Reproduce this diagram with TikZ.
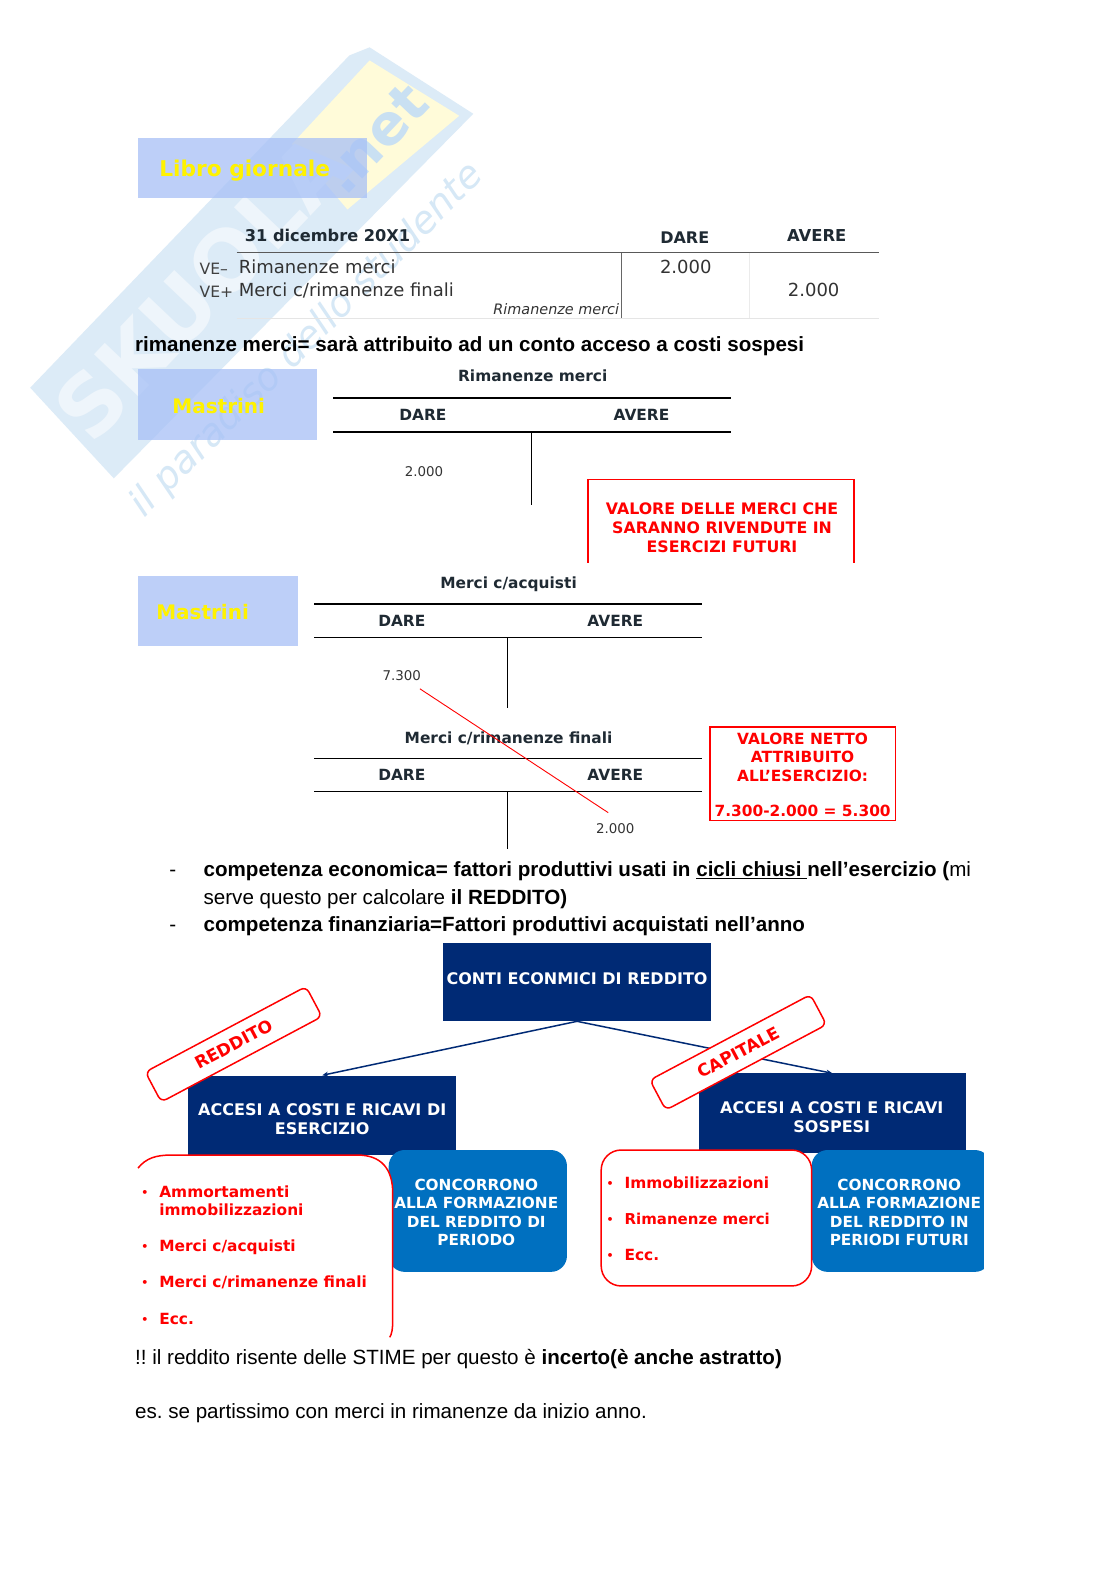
\documentclass[tikz,border=0pt]{standalone}
\usepackage{fontspec}
\setmainfont{Liberation Sans}
\newfontfamily\vd{DejaVu Sans}
\usetikzlibrary{fit,arrows.meta}
\frenchspacing
\definecolor{navy}{HTML}{002A75}
\definecolor{midblue}{HTML}{0070C0}
\definecolor{boxblue}{HTML}{A7C0F6}
\definecolor{wmblue}{HTML}{DCEBF7}
\definecolor{wmyellow}{HTML}{FFFBD9}
\definecolor{wmtext}{HTML}{C9E0F2}
\definecolor{wmscript}{HTML}{D6E8F6}
\definecolor{wmwhite}{HTML}{EEF5FB}
\definecolor{hdr}{HTML}{1F2A33}
\newcommand{\fs}[1]{\fontsize{#1}{#1}\selectfont}
\tikzset{
 body/.style={anchor=base west,inner sep=0pt,font=\fs{20.6},text=black},
 vdt/.style={anchor=base,inner sep=0pt,font=\vd\fs{15}},
 vdb/.style={anchor=base,inner sep=0pt,font=\vd\bfseries\fs{15.4},text=hdr},
 ttl/.style={anchor=base west,inner sep=0pt,font=\vd\bfseries\fs{21.7},text=yellow},
 ruleline/.style={draw=black,line width=1.5pt},
 thinline/.style={draw=black!65,line width=.7pt},
 redbox/.style={draw=red,line width=1.4pt},
 redt/.style={text=red,font=\vd\bfseries\fs{15.8},align=center,inner sep=0pt},
 navybox/.style={fill=navy,inner sep=0pt},
 navyt/.style={inner sep=0pt,text=white,font=\vd\bfseries\fs{16},align=center},
 cont/.style={inner sep=0pt,text=white,font=\vd\bfseries\fs{15.3},align=center},
 bluebox/.style={fill=midblue,rounded corners=16pt,inner sep=0pt},
 tilted/.style={fill=white,draw=red,line width=1.5pt,rounded corners=6pt,minimum width=182pt,minimum height=34pt,inner sep=0pt,text=red,font=\vd\bfseries\fs{17}},
 whitered/.style={fill=white,draw=red,line width=1.5pt},
 item/.style={anchor=base west,inner sep=0pt,text=red,font=\vd\bfseries\fs{15.4},align=left},
 bul/.style={anchor=base,inner sep=0pt,text=red,font=\vd\bfseries\fs{11}},
 linkarrow/.style={draw=navy,line width=1.5pt,-{Stealth[length=6pt,width=5pt]}},
}
\begin{document}
\begin{tikzpicture}[x=1.0072pt,y=-1.0072pt]
\useasboundingbox[fill=white] (0,0) rectangle (1110,1568);
% watermark
\fill[wmblue] (30,385) -- (347,55) -- (367,47) -- (470,113) -- (113,475) -- cycle;
\fill[wmyellow] (290,143) -- (367,60) -- (456,115) -- (345,208) -- cycle;
\node[rotate=46.5,inner sep=0pt,text=wmwhite,font=\vd\bfseries\fs{84}] (wm1) at (200,285) {SKUOLA};
\node[rotate=46.5,inner sep=0pt,text=wmtext,font=\vd\bfseries\fs{56}] (wm2) at (372,138) {.net};
\node[rotate=45,inner sep=0pt,text=wmscript,font=\vd\itshape\fs{38}] (wm3) at (305,338) {il paradiso dello studente};
% title boxes
\node[fit={(137,137)(364,197)},fill=boxblue,opacity=.75,inner sep=0pt] (b1) {};
\node[ttl] (t1) at (158,175) {Libro giornale};
\node[fit={(137,366)(315,437)},fill=boxblue,opacity=.75,inner sep=0pt] (b2) {};
\node[ttl,font=\vd\bfseries\fs{20}] (t2) at (171,411) {Mastrini};
\node[fit={(137,572)(296,641)},fill=boxblue,opacity=.75,inner sep=0pt] (b3) {};
\node[ttl,font=\vd\bfseries\fs{20}] (t3) at (155,615) {Mastrini};
% journal
\node[vdb,anchor=base west,font=\vd\bfseries\fs{16.2}] (j1) at (243,240) {31 dicembre 20X1};
\node[vdb,font=\vd\bfseries\fs{16}] (j2) at (680,242) {DARE};
\node[vdb,font=\vd\bfseries\fs{16.4}] (j3) at (811,240) {AVERE};
\draw[thinline] (235,251) -- (873,251);
\draw[draw=black!10,line width=.8pt] (235,316) -- (873,316);
\draw[draw=black!8,line width=.6pt] (744,251) -- (744,316);
\draw[draw=black!60,line width=.6pt] (617,251) -- (617,316);
\node[vdt,anchor=base west,text=black!75,font=\vd\fs{15.6}] (v1) at (198,273) {VE–};
\node[vdt,anchor=base west,text=black!75,font=\vd\fs{15.6}] (v2) at (198,295) {VE+};
\node[vdt,anchor=base west,text=black!80,font=\vd\fs{18}] (r1) at (237,272) {Rimanenze merci};
\node[vdt,anchor=base west,text=black!80,font=\vd\fs{18}] (r2) at (237,294) {Merci c/rimanenze finali};
\node[vdt,anchor=base east,text=black!80,font=\vd\itshape\fs{14.4}] (r3) at (615,312) {Rimanenze merci};
\node[vdt,text=black!80,font=\vd\fs{18}] (n1) at (681,272) {2.000};
\node[vdt,text=black!80,font=\vd\fs{18}] (n2) at (808,294) {2.000};
% sentence
\node[body,font=\bfseries\fs{20.6}] (s1) at (134,349) {rimanenze merci= sarà attribuito ad un conto acceso a costi sospesi};
% ledger 1
\node[vdb] (l1) at (529,379) {Rimanenze merci};
\draw[ruleline] (331,395) -- (726,395);
\node[vdb] (l1d) at (420,418) {DARE};
\node[vdb] (l1a) at (637,418) {AVERE};
\draw[ruleline] (331,429) -- (726,429);
\draw[ruleline] (528,429) -- (528,501);
\node[vdt,text=black!80,font=\vd\fs{13.4}] (l1n) at (421,473) {2.000};
\draw[redbox] (584,559) -- (584,476) -- (848,476) -- (848,559);
\node[redt] (rb1) at (717,524) {VALORE DELLE MERCI CHE\\[3pt]SARANNO RIVENDUTE IN\\[3pt]ESERCIZI FUTURI};
% ledger 2
\node[vdb] (l2) at (505,584) {Merci c/acquisti};
\draw[ruleline] (312,600) -- (697,600);
\node[vdb] (l2d) at (399,622) {DARE};
\node[vdb] (l2a) at (611,622) {AVERE};
\draw[ruleline] (312,633) -- (697,633);
\draw[ruleline] (504,633) -- (504,703);
\node[vdt,text=black!80,font=\vd\fs{13.4}] (l2n) at (399,676) {7.300};
% ledger 3
\node[vdb] (l3) at (505,738) {Merci c/rimanenze finali};
\draw[ruleline] (312,753) -- (697,753);
\node[vdb] (l3d) at (399,775) {DARE};
\node[vdb] (l3a) at (611,775) {AVERE};
\draw[ruleline] (312,786) -- (697,786);
\draw[ruleline] (504,786) -- (504,843);
\node[vdt,text=black!80,font=\vd\fs{13.4}] (l3n) at (611,828) {2.000};
\coordinate (crossA) at (417,684);
\coordinate (crossB) at (604,807);
\draw[draw=red,line width=.9pt] (crossA) -- (crossB);
\node[fit={(705,722)(889,815)},draw=red,line width=1.4pt,inner sep=0pt] (rb2) {};
\node[redt,font=\vd\bfseries\fs{15.4}] (rb2t) at (797,752) {VALORE NETTO\\[3pt]ATTRIBUITO\\[3pt]ALL’ESERCIZIO:};
\node[redt,font=\vd\bfseries\fs{15.4}] (rb2u) at (797,805) {7.300-2.000 = 5.300};
% bullets
\node[body] (d1) at (168,870) {-};
\node[body] (p1) at (202,870) {\textbf{competenza economica= fattori produttivi usati in \underline{cicli chiusi }nell’esercizio (}mi};
\node[body] (p2) at (202,898) {serve questo per calcolare \textbf{il REDDITO)}};
\node[body] (d2) at (168,925) {-};
\node[body,font=\bfseries\fs{20.6}] (p3) at (202,925) {competenza finanziaria=Fattori produttivi acquistati nell’anno};
% chart
\node[fit={(440,936)(706,1014)},navybox] (top) {};
\node[navyt] (topt) at (573,972) {CONTI ECONMICI DI REDDITO};
\node[fit={(187,1068)(453,1147)},navybox] (acc1) {};
\node[fit={(694,1066)(959,1145)},navybox] (acc2) {};
\draw[linkarrow] (top.south) -- (acc1.north);
\draw[linkarrow] (top.south) -- (acc2.north);
\node[navyt] (acc1t) at (320,1111) {ACCESI A COSTI E RICAVI DI\\[3pt]ESERCIZIO};
\node[navyt] (acc2t) at (826,1109) {ACCESI A COSTI E RICAVI\\[3pt]SOSPESI};
\node[tilted,rotate=28] (lab1) at (232,1037) {REDDITO};
\node[tilted,rotate=28] (lab2) at (733,1045) {CAPITALE};
% blue boxes
\node[fit={(386,1142)(563,1263)},bluebox] (con1) {};
\begin{scope}
\clip (800,1130) rectangle (977,1270);
\node[fit={(806,1142)(984,1263)},bluebox] (con2) {};
\end{scope}
\node[cont] (con1t) at (473,1204) {CONCORRONO\\[3pt]ALLA FORMAZIONE\\[3pt]DEL REDDITO DI\\[3pt]PERIODO};
\node[cont] (con2t) at (893,1204) {CONCORRONO\\[3pt]ALLA FORMAZIONE\\[3pt]DEL REDDITO IN\\[3pt]PERIODI FUTURI};
% white lists
\fill[white] (137,1328) -- (137,1160) .. controls (145,1150) and (155,1147) .. (170,1147) -- (355,1147) .. controls (378,1147) and (390,1160) .. (390,1185) -- (390,1310) .. controls (390,1320) and (389,1325) .. (387,1328) -- cycle;
\draw[draw=red,line width=1.5pt] (137,1160) .. controls (145,1150) and (155,1147) .. (170,1147) -- (355,1147) .. controls (378,1147) and (390,1160) .. (390,1185) -- (390,1310) .. controls (390,1320) and (389,1325) .. (387,1328);
\node[fit={(597,1142)(806,1277)},whitered,rounded corners=20pt,inner sep=0pt] (list2) {};
\node[bul] (a0) at (144,1188) {•};
\node[item] (a1) at (158,1189) {Ammortamenti};
\node[item] (a2) at (158,1207) {immobilizzazioni};
\node[bul] (a3) at (144,1242) {•};
\node[item] (a4) at (158,1243) {Merci c/acquisti};
\node[bul] (a5) at (144,1278) {•};
\node[item] (a6) at (158,1279) {Merci c/rimanenze finali};
\node[bul] (a7) at (144,1314) {•};
\node[item] (a8) at (158,1315) {Ecc.};
\node[bul] (c0) at (606,1179) {•};
\node[item] (c1) at (620,1180) {Immobilizzazioni};
\node[bul] (c2) at (606,1215) {•};
\node[item,font=\vd\bfseries\fs{15}] (c3) at (620,1216) {Rimanenze merci};
\node[bul] (c4) at (606,1251) {•};
\node[item] (c5) at (620,1252) {Ecc.};
% closing text
\node[body] (e1) at (134,1355) {!! il reddito risente delle STIME per questo è \textbf{incerto(è anche astratto)}};
\node[body] (e2) at (134,1409) {es. se partissimo con merci in rimanenze da inizio anno.};
\end{tikzpicture}
\end{document}
